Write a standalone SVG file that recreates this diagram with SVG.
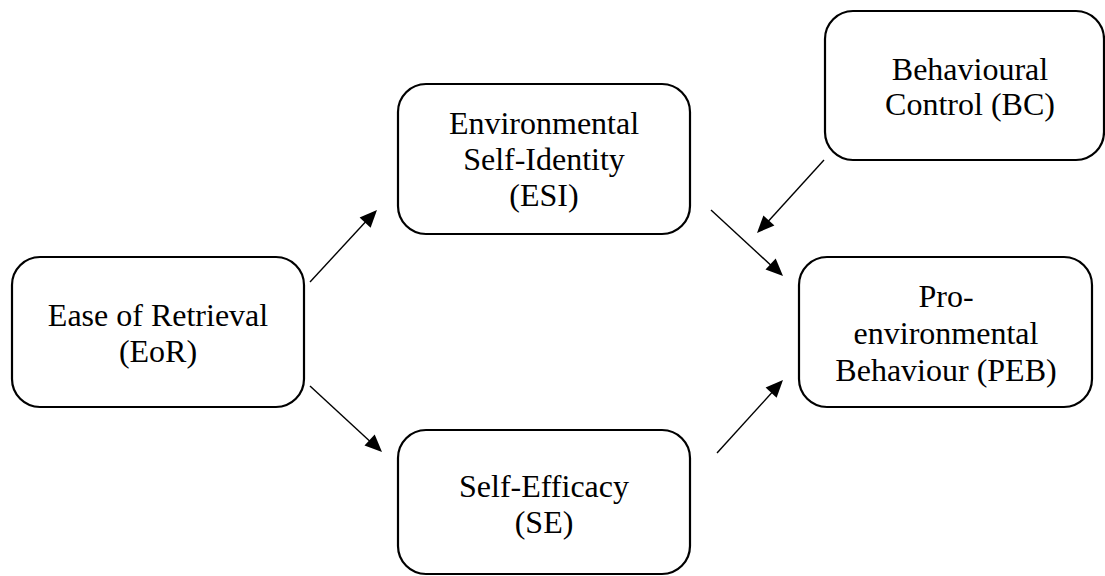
<svg xmlns="http://www.w3.org/2000/svg" width="1105" height="576" viewBox="0 0 1105 576">
<style>
.box{fill:#fff;stroke:#000;stroke-width:2.2}
.t{font-family:'Liberation Serif','DejaVu Serif',serif;font-size:32px;fill:#000;text-anchor:middle}
.c{stroke:#000;stroke-width:1.4;fill:none}
.h{fill:#000;stroke:none}
</style>
<rect width="1105" height="576" fill="#fff"/>
<g id="connectors">
<line class="c" x1="310" y1="282" x2="370" y2="217"/>
<polygon class="h" points="377,210 359.6,217.6 370.6,227.8"/>
<line class="c" x1="310" y1="386" x2="375" y2="446"/>
<polygon class="h" points="382,452 374.7,434.5 364.5,445.5"/>
<line class="c" x1="711" y1="210" x2="776" y2="270"/>
<polygon class="h" points="783,276 775.7,258.5 765.5,269.5"/>
<line class="c" x1="717" y1="453" x2="776" y2="388"/>
<polygon class="h" points="783,380 765.6,387.6 776.6,397.8"/>
<line class="c" x1="824" y1="160" x2="764" y2="226"/>
<polygon class="h" points="757,233 774.4,225.6 763.4,215.4"/>
</g>
<g id="eor">
<rect class="box" x="12" y="257" width="292" height="150" rx="28"/>
<text class="t" x="158" y="326">Ease of Retrieval</text>
<text class="t" x="158" y="362">(EoR)</text>
</g>
<g id="esi">
<rect class="box" x="398" y="84" width="292" height="150" rx="28"/>
<text class="t" x="544" y="134">Environmental</text>
<text class="t" x="544" y="170">Self-Identity</text>
<text class="t" x="544" y="206">(ESI)</text>
</g>
<g id="bc">
<rect class="box" x="825" y="11" width="279" height="149" rx="28"/>
<text class="t" x="970" y="80">Behavioural</text>
<text class="t" x="970" y="115">Control (BC)</text>
</g>
<g id="peb">
<rect class="box" x="799" y="257" width="293" height="150" rx="28"/>
<text class="t" x="946" y="307">Pro-</text>
<text class="t" x="946" y="344">environmental</text>
<text class="t" x="946" y="381">Behaviour (PEB)</text>
</g>
<g id="se">
<rect class="box" x="398" y="430" width="292" height="144" rx="28"/>
<text class="t" x="544" y="497">Self-Efficacy</text>
<text class="t" x="544" y="533">(SE)</text>
</g>
</svg>
